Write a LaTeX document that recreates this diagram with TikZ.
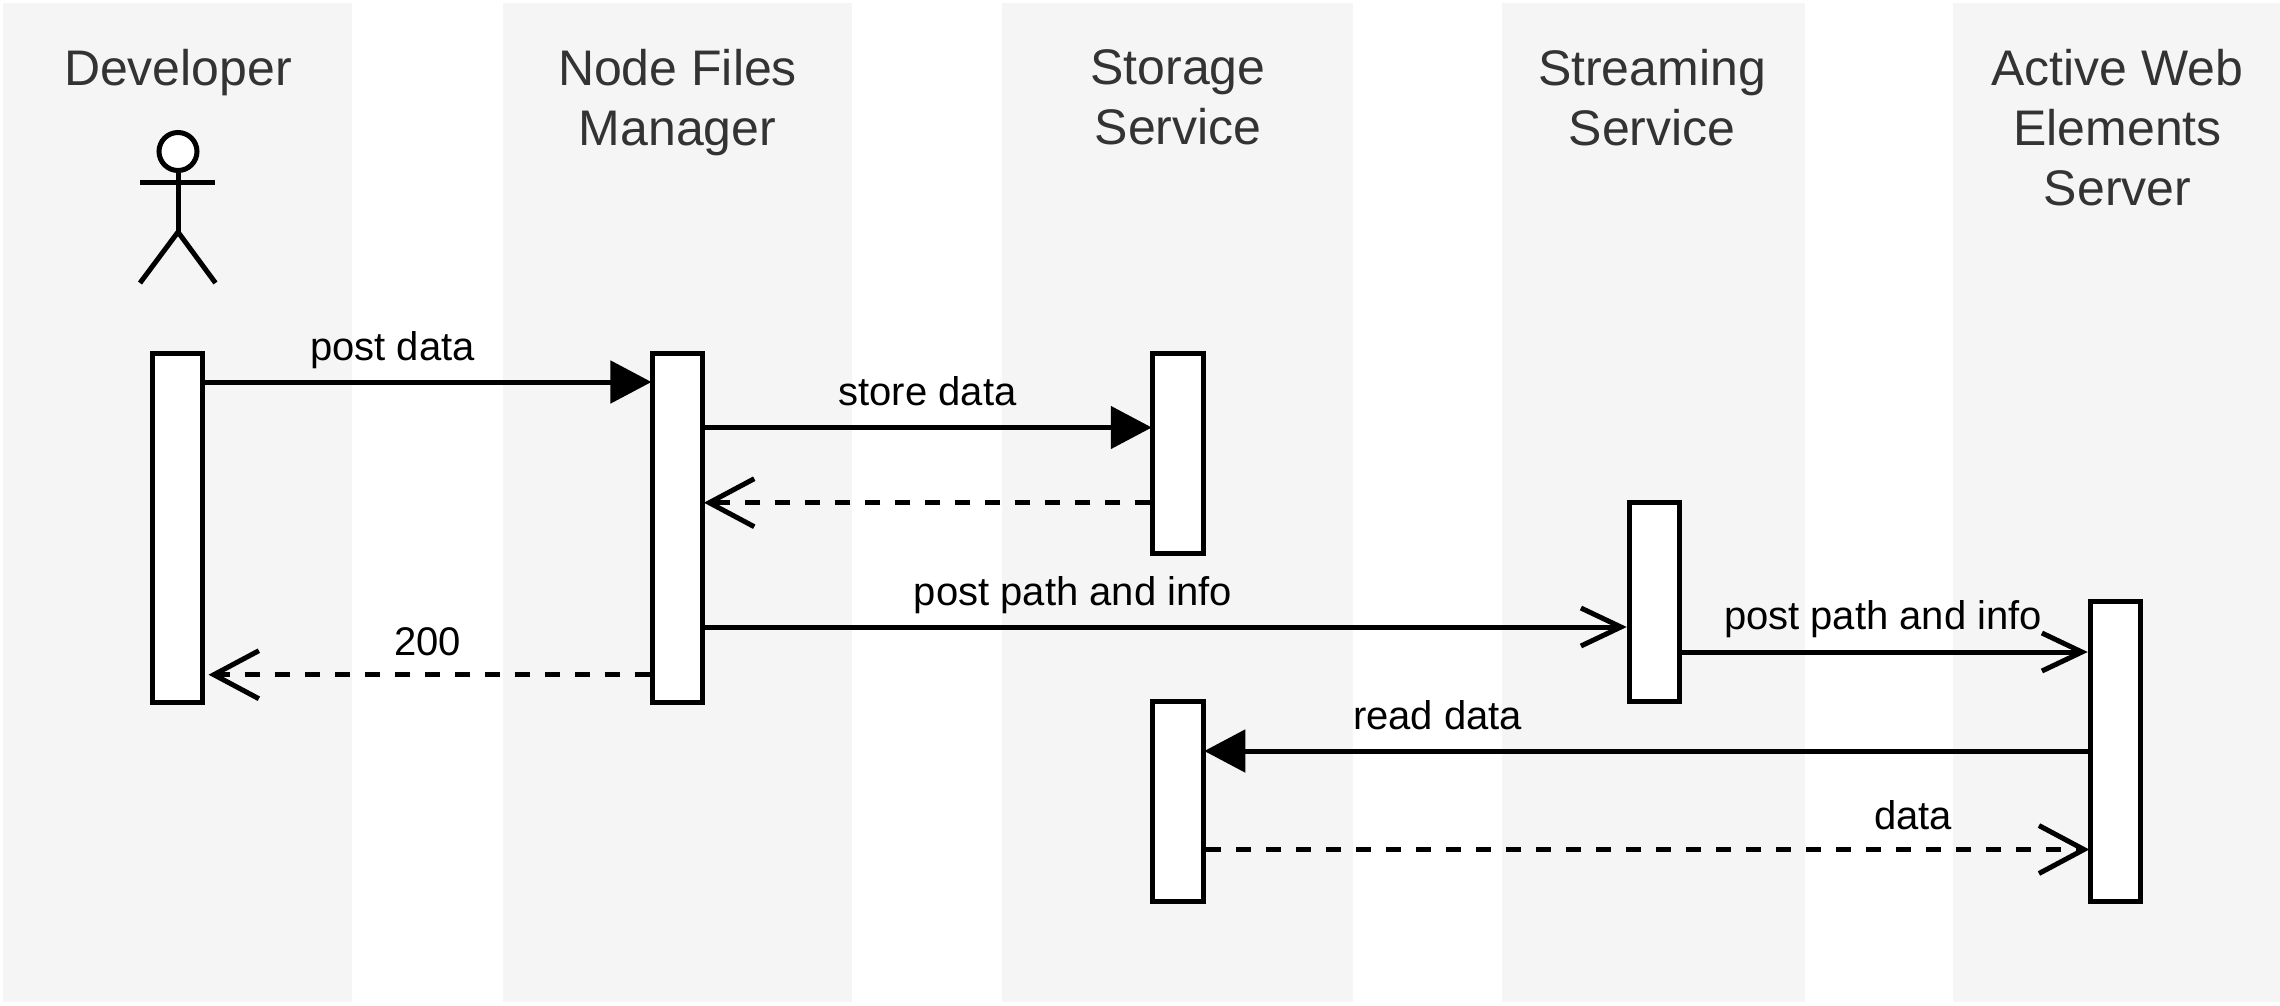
\documentclass[tikz,border=0pt]{standalone}
\usepackage{fontspec}
\setmainfont{Liberation Sans}
\usetikzlibrary{arrows.meta}
\definecolor{bandgrey}{HTML}{F5F5F5}
\definecolor{titlegrey}{HTML}{333333}
\tikzset{
  band/.style={fill=bandgrey,draw=none},
  lifebox/.style={draw=black,fill=white,line width=5pt,minimum width=50.5pt,anchor=north,inner sep=0pt},
  title/.style={anchor=north,align=center,inner sep=0pt,text=titlegrey,font=\fontsize{50}{60}\selectfont,execute at begin node={\rule{0pt}{40pt}}},
  msg/.style={anchor=base,inner sep=0pt,text=black,font=\fontsize{40}{48}\selectfont},
  wire/.style={draw=black,line width=5pt},
  call/.style={wire,shorten >=-1.5pt,-{Triangle[length=41pt,width=42pt]}},
  async/.style={wire,-{Straight Barb[length=40pt,width=38pt]}},
  reply/.style={wire,shorten >=-1.5pt,dash pattern=on 15pt off 15pt,-{Straight Barb[length=45pt,width=48pt]}},
  limb/.style={draw=black,line width=5pt}
}
\begin{document}
\begin{tikzpicture}[x=1pt,y=-1pt]
\useasboundingbox (0,0) rectangle (2280,1005);
% swimlanes
\fill[band] (2.5,3) rectangle (352,1002);
\fill[band] (503,3) rectangle (852,1002);
\fill[band] (1002,3) rectangle (1352.5,1002);
\fill[band] (1502,3) rectangle (1804.5,1002);
\fill[band] (1952.5,3) rectangle (2280,1002);
% titles
\node[title] (tdev) at (178,45) {Developer};
\node[title] (tnfm) at (677.5,49.5) {Node Files\\Manager};
\node[title] (tsto) at (1178,49.5) {Storage\\Service};
\node[title] (tstr) at (1652,49.5) {Streaming\\Service};
\node[title] (tawe) at (2117.5,49.5) {Active Web\\Elements\\Server};
% actor
\node[circle,draw=black,fill=white,line width=5pt,minimum size=38pt,inner sep=0pt] (head) at (178,151.5) {};
\coordinate (hip) at (178,232);
\coordinate (armL) at (140,182);
\coordinate (armR) at (215,182);
\coordinate (legL) at (140,283);
\coordinate (legR) at (215.5,283);
\draw[limb] (head.south) -- (hip);
\draw[limb] (armL) -- (armR);
\draw[limb] (legL) -- (hip) -- (legR);
% activation boxes
\node[lifebox,minimum height=349.5pt] (dev) at (177.3,350.5) {};
\node[lifebox,minimum height=349.5pt] (nfm) at (677.7,350.5) {};
\node[lifebox,minimum height=200pt] (sto) at (1178,350.5) {};
\node[lifebox,minimum height=199.5pt] (str) at (1654.5,499.5) {};
\node[lifebox,minimum height=300pt] (awe) at (2115.5,599) {};
\node[lifebox,minimum height=199.5pt] (stb) at (1178,699) {};
% connectors
\draw[call] (dev.east |- 0,382) -- (nfm.west |- 0,382);
\draw[call] (nfm.east |- 0,427.5) -- (sto.west |- 0,427.5);
\draw[reply] (sto.west |- 0,502.7) -- (nfm.east |- 0,502.7);
\draw[async] (nfm.east |- 0,627) -- (str.west |- 0,627);
\draw[reply,shorten >=3.5pt] (nfm.west |- 0,674.7) -- (dev.east |- 0,674.7);
\draw[async] (str.east |- 0,652) -- (awe.west |- 0,652);
\draw[call] (awe.west |- 0,751) -- (stb.east |- 0,751);
\draw[reply] (stb.east |- 0,849.5) -- (awe.west |- 0,849.5);
% labels
\node[msg] (l1) at (392.5,360) {post data};
\node[msg] (l2) at (927.5,405.5) {store data};
\node[msg] (l3) at (1073,605) {post path and info};
\node[msg] (l4) at (427.5,655) {200};
\node[msg] (l5) at (1883,629.5) {post path and info};
\node[msg] (l6) at (1437.5,729.5) {read data};
\node[msg] (l7) at (1913,829.5) {data};
\end{tikzpicture}
\end{document}
